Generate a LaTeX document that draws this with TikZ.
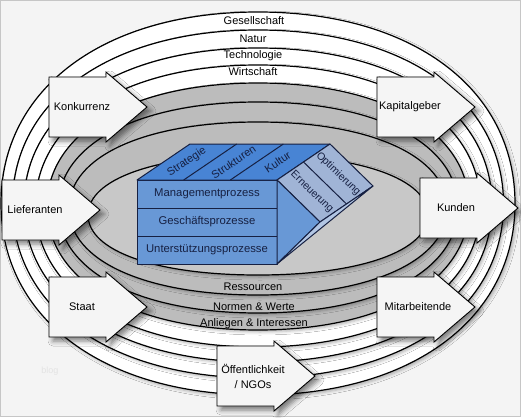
\documentclass[tikz,border=0pt]{standalone}
\usepackage{fontspec}
\setmainfont{Liberation Sans}
\usetikzlibrary{calc, positioning, shadows.blur}
\definecolor{bgpaper}{RGB}{244,244,244}
\definecolor{ringgray}{RGB}{188,188,188}
\definecolor{coregray}{RGB}{200,200,200}
\definecolor{frontblue}{RGB}{104,152,214}
\definecolor{topblue}{RGB}{72,132,212}
\definecolor{slantblue}{RGB}{160,180,214}
\definecolor{baseblue}{RGB}{178,198,228}
\definecolor{inkblue}{RGB}{22,32,66}
\colorlet{arrowface}{white!96!black}

\begin{document}
\begin{tikzpicture}[x=1pt, y=-1pt,
    ring/.style={draw=black, line width=1.2pt,
      blur shadow={shadow xshift=2pt, shadow yshift=-2pt,
        shadow blur radius=3pt, shadow opacity=30}},
    envarrow/.style={draw=black, line width=0.9pt, fill=arrowface, line join=miter,
      blur shadow={shadow xshift=4pt, shadow yshift=-4pt,
        shadow blur radius=5pt, shadow opacity=50}},
    ringlbl/.style={font=\fontsize{11}{13}\selectfont, inner sep=0pt},
    grouplbl/.style={font=\fontsize{11}{15}\selectfont, inner sep=0pt, align=center},
    facet/.style={draw=inkblue, line width=1pt, line join=round},
    prozess/.style={facet, fill=frontblue, minimum width=140pt, minimum height=28pt,
      inner sep=0pt, outer sep=0pt, text=inkblue, font=\fontsize{11.3}{13}\selectfont},
    facetlbl/.style={text=inkblue, inner sep=0pt, font=\fontsize{11}{13}\selectfont},
    node distance=0pt,
  ]
  \fill[bgpaper] (0,0) rectangle (521,417);
  \draw[gray!45, line width=1pt] (0.5,0.5) rectangle (520.5,416.5);
  \useasboundingbox (0,0) rectangle (521,417);

  % spheres, outside to inside
  \foreach \a/\b/\cy/\f in {257/191.5/203.5/white, 245.5/174/204/white,
      234/157/205/white, 222.5/141/206/white, 211/123.5/206.5/ringgray,
      200/105.5/207.5/ringgray, 189/86.5/208.5/ringgray, 170/60/215/coregray}
    \draw[ring, fill=\f] ({258+\a},\cy)
      .. controls ({258+\a},{\cy-0.6*\b}) and ({258+0.6*\a},{\cy-\b}) .. (258,{\cy-\b})
      .. controls ({258-0.6*\a},{\cy-\b}) and ({258-\a},{\cy-0.6*\b}) .. ({258-\a},\cy)
      .. controls ({258-\a},{\cy+0.6*\b}) and ({258-0.6*\a},{\cy+\b}) .. (258,{\cy+\b})
      .. controls ({258+0.6*\a},{\cy+\b}) and ({258+\a},{\cy+0.6*\b}) .. cycle;

  \node[ringlbl] (gesellschaft) at (254,21) {Gesellschaft};
  \node[ringlbl] (natur) at (253,38.5) {Natur};
  \node[ringlbl] (technologie) at (253,55.5) {Technologie};
  \node[ringlbl] (wirtschaft) at (253,72) {Wirtschaft};
  \node[ringlbl] (ressourcen) at (253,287) {Ressourcen};
  \node[ringlbl] (normen) at (254,307) {Normen \& Werte};
  \node[ringlbl] (anliegen) at (254,324) {Anliegen \& Interessen};
  \node[font=\fontsize{9}{10}\selectfont, text=gray!22] (blog) at (50,371) {blog};

  % stakeholder arrows
  \foreach \l/\m in {49/107, 377/107, 2/210, 420/208, 49/307, 377/307, 217/376}
    \draw[envarrow] (\l,{\m-30}) -- ++(57,0) -- ++(0,-5) -- ++(41,35)
      -- ++(-41,35) -- ++(0,-5) -- ++(-57,0) -- cycle;

  \node[grouplbl] (konkurrenz) at (82,107) {Konkurrenz};
  \node[grouplbl] (kapitalgeber) at (410,107) {Kapitalgeber};
  \node[grouplbl] (lieferanten) at (35,210) {Lieferanten};
  \node[grouplbl] (kunden) at (456,208) {Kunden};
  \node[grouplbl] (staat) at (82,307) {Staat};
  \node[grouplbl] (mitarbeitende) at (418,307) {Mitarbeitende};
  \node[grouplbl] (ngos) at (253,376) {Öffentlichkeit\\/ NGOs};

  % process block
  \node[prozess] (mgmt) at (207,194) {Managementprozess};
  \node[prozess, below=of mgmt] (gesch) {Geschäftsprozesse};
  \node[prozess, below=of gesch] (unter) {Unterstützungsprozesse};

  \coordinate (ftl) at (mgmt.north west);
  \coordinate (ftr) at (mgmt.north east);
  \coordinate (fbr) at (unter.south east);
  \coordinate (btl) at ($(ftl)+(53,-36)$);
  \coordinate (btr) at ($(ftr)+(53,-36)$);
  \coordinate (sl) at ($(ftr)+(43,42)$);
  \coordinate (sr) at ($(btr)+(43,42)$);

  \filldraw[facet, fill=topblue] (ftl) -- (btl) -- (btr) -- (ftr) -- cycle;
  \foreach \t in {1,2}
    \draw[facet] ($(ftl)!\t/3!(ftr)$) -- ++(53,-36);
  \filldraw[facet, fill=slantblue] (ftr) -- (btr) -- (sr) -- (sl) -- cycle;
  \draw[facet] ($(ftr)!.5!(btr)$) -- ++(43,42);
  \filldraw[facet, fill=frontblue] (ftr) -- (sl) -- (fbr) -- cycle;
  \filldraw[facet, fill=baseblue] (sl) -- (sr) -- (fbr) -- cycle;

  \node[facetlbl, rotate=34] (strategie) at ($(ftl)!1/6!(ftr)+(26.5,-18)$) {Strategie};
  \node[facetlbl, rotate=34] (strukturen) at ($(ftl)!.5!(ftr)+(26.5,-18)$) {Strukturen};
  \node[facetlbl, rotate=34] (kultur) at ($(ftl)!5/6!(ftr)+(24,-18)$) {Kultur};
  \node[facetlbl, rotate=-44, font=\fontsize{10.5}{12}\selectfont] (erneuerung)
    at ($(ftr)!.5!(sl)+(13.25,-9)$) {Erneuerung};
  \node[facetlbl, rotate=-44, font=\fontsize{10.5}{12}\selectfont] (optimierung)
    at ($(ftr)!.5!(sl)+(39.75,-27)$) {Optimierung};
\end{tikzpicture}
\end{document}
